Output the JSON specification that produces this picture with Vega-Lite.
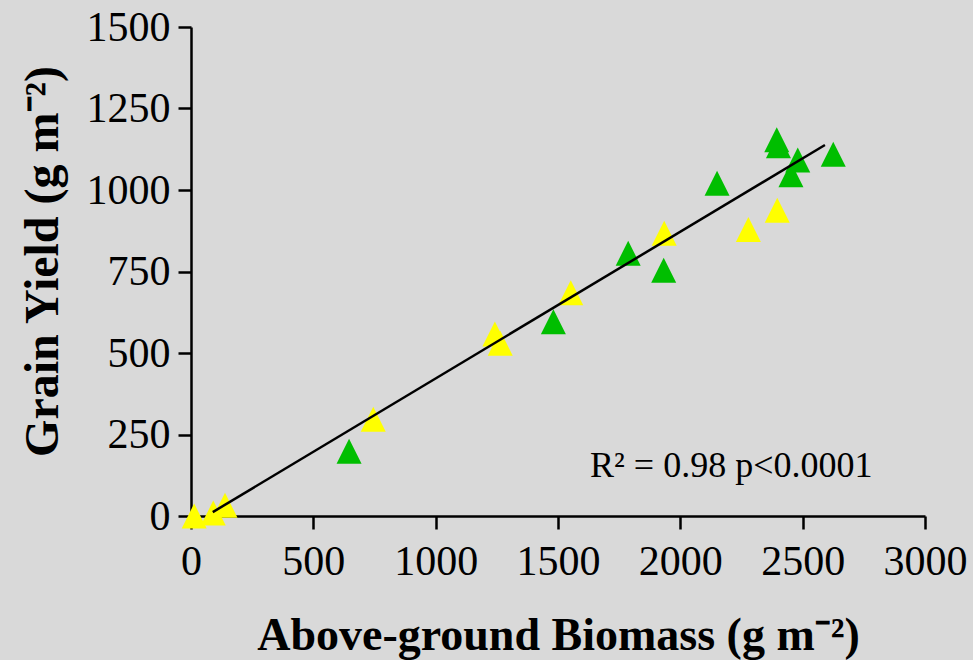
{
  "$schema": "https://vega.github.io/schema/vega-lite/v6.json",
  "autosize": "none",
  "width": 734,
  "height": 489,
  "padding": {"left": 191, "top": 27, "right": 48, "bottom": 144},
  "background": "#d9d9d9",
  "config": {
    "view": {"stroke": null},
    "font": "Liberation Serif",
    "axis": {
      "grid": false,
      "domainColor": "#000000",
      "domainWidth": 2.5,
      "tickColor": "#000000",
      "tickWidth": 2.5,
      "tickSize": 13,
      "labelFont": "Liberation Serif",
      "labelFontSize": 42,
      "labelColor": "#000000",
      "labelFlush": false,
      "labelOverlap": false,
      "format": "d",
      "titleFont": "Liberation Serif",
      "titleFontSize": 46,
      "titleFontWeight": "bold",
      "titleColor": "#000000",
      "zindex": 1
    }
  },
  "datasets": {
    "plots": [
      {"biomass": 13, "grain": 0, "group": "A"},
      {"biomass": 91, "grain": 9, "group": "A"},
      {"biomass": 139, "grain": 33, "group": "A"},
      {"biomass": 745, "grain": 297, "group": "A"},
      {"biomass": 1242, "grain": 558, "group": "A"},
      {"biomass": 1264, "grain": 530, "group": "A"},
      {"biomass": 1552, "grain": 685, "group": "A"},
      {"biomass": 1934, "grain": 867, "group": "A"},
      {"biomass": 2278, "grain": 879, "group": "A"},
      {"biomass": 2396, "grain": 938, "group": "A"},
      {"biomass": 646, "grain": 199, "group": "B"},
      {"biomass": 1481, "grain": 596, "group": "B"},
      {"biomass": 1787, "grain": 806, "group": "B"},
      {"biomass": 1932, "grain": 754, "group": "B"},
      {"biomass": 2150, "grain": 1021, "group": "B"},
      {"biomass": 2394, "grain": 1154, "group": "B"},
      {"biomass": 2401, "grain": 1136, "group": "B"},
      {"biomass": 2452, "grain": 1047, "group": "B"},
      {"biomass": 2480, "grain": 1092, "group": "B"},
      {"biomass": 2625, "grain": 1110, "group": "B"}
    ],
    "fit": [
      {"biomass": 89, "grain": 12},
      {"biomass": 2591, "grain": 1138}
    ],
    "note": [
      {"biomass": 1631, "grain": 153, "label": "R² = 0.98 p<0.0001"}
    ]
  },
  "layer": [
    {
      "data": {"name": "plots"},
      "mark": {
        "type": "point",
        "shape": "M0,-1L1,1L-1,1Z",
        "size": 625,
        "filled": true,
        "opacity": 1,
        "strokeWidth": 0,
        "clip": false
      },
      "encoding": {
        "x": {
          "field": "biomass",
          "type": "quantitative",
          "scale": {"domain": [0, 3000], "nice": false, "zero": false},
          "axis": {
            "values": [0, 500, 1000, 1500, 2000, 2500, 3000],
            "labelPadding": 12,
            "title": "Above-ground Biomass (g m⁻²)",
            "titleY": 119,
            "titleBaseline": "middle"
          }
        },
        "y": {
          "field": "grain",
          "type": "quantitative",
          "scale": {"domain": [0, 1500], "nice": false, "zero": false},
          "axis": {
            "values": [0, 250, 500, 750, 1000, 1250, 1500],
            "labelPadding": 8,
            "title": "Grain Yield (g m⁻²)",
            "titleFontSize": 48,
            "titleAngle": -90,
            "titleX": -148,
            "titleY": 234,
            "titleAlign": "center",
            "titleBaseline": "middle"
          }
        },
        "color": {
          "field": "group",
          "type": "nominal",
          "scale": {"domain": ["A", "B"], "range": ["#ffff00", "#00be00"]},
          "legend": null
        }
      }
    },
    {
      "data": {"name": "fit"},
      "mark": {"type": "line", "color": "#000000", "strokeWidth": 2.5},
      "encoding": {
        "x": {"field": "biomass", "type": "quantitative"},
        "y": {"field": "grain", "type": "quantitative"}
      }
    },
    {
      "data": {"name": "note"},
      "mark": {
        "type": "text",
        "align": "left",
        "baseline": "middle",
        "font": "Liberation Serif",
        "fontSize": 36,
        "color": "#000000"
      },
      "encoding": {
        "x": {"field": "biomass", "type": "quantitative"},
        "y": {"field": "grain", "type": "quantitative"},
        "text": {"field": "label"}
      }
    }
  ]
}
